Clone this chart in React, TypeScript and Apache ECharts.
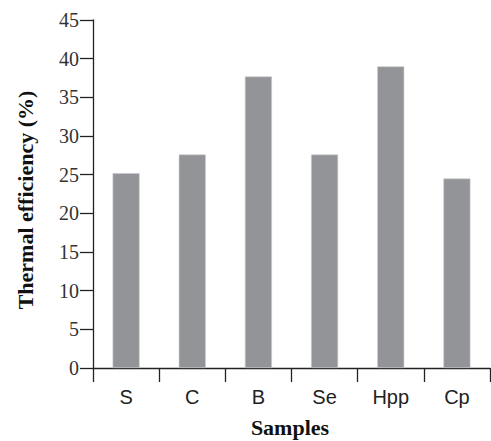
import React, { useEffect, useRef } from "react";
import * as echarts from "echarts";

const categories = ["S", "C", "B", "Se", "Hpp", "Cp"];
const efficiency = [25.2, 27.6, 37.7, 27.6, 39.0, 24.5];
const yMin = 0;
const yMax = 45;
const yStep = 5;
const yTitle = "Thermal efficiency (%)";
const xTitle = "Samples";

export default function App() {
  const ref = useRef<HTMLDivElement>(null);
  useEffect(() => {
    if (!ref.current) return;
    const chart = echarts.init(ref.current, null, { renderer: "svg" });
    const axisColor = "#222";
    chart.setOption({
      animation: false,
      backgroundColor: "#fff",
      grid: { left: 93, top: 20, right: 1, bottom: 73, containLabel: false },
      xAxis: {
        type: "category",
        data: categories,
        boundaryGap: true,
        axisLine: { show: true, lineStyle: { color: axisColor, width: 1.3 } },
        axisTick: { show: true, inside: false, length: 14, alignWithLabel: false, lineStyle: { color: axisColor, width: 1.3 } },
        axisLabel: {
          margin: 19,
          fontFamily: "'Liberation Sans', Arial, sans-serif",
          fontSize: 20,
          color: "#222",
        },
        splitLine: { show: false },
      },
      yAxis: {
        type: "value",
        min: yMin,
        max: yMax,
        interval: yStep,
        axisLine: { show: true, lineStyle: { color: axisColor, width: 1.3 } },
        axisTick: { show: true, inside: false, length: 13, lineStyle: { color: axisColor, width: 1.3 } },
        axisLabel: {
          margin: 14,
          fontFamily: "'Liberation Serif', 'Times New Roman', serif",
          fontSize: 20,
          color: "#333",
          padding: [5, 0, 0, 0],
        },
        splitLine: { show: false },
      },
      series: [
        {
          type: "bar",
          data: efficiency,
          barWidth: 27,
          itemStyle: { color: "#939498", borderColor: "#c8c9cc", borderWidth: 0.6 },
        },
      ],
      graphic: [
        {
          type: "text",
          x: 25,
          y: 200,
          rotation: Math.PI / 2,
          style: {
            text: yTitle,
            fontFamily: "'Liberation Serif', 'Times New Roman', serif",
            fontWeight: "bold",
            fontSize: 22,
            fill: "#111",
            align: "center",
            verticalAlign: "middle",
          },
        },
        {
          type: "text",
          x: 290,
          y: 427,
          style: {
            text: xTitle,
            fontFamily: "'Liberation Serif', 'Times New Roman', serif",
            fontWeight: "bold",
            fontSize: 22,
            fill: "#111",
            align: "center",
            verticalAlign: "middle",
          },
        },
      ],
    });
    return () => chart.dispose();
  }, []);
  return (
    <div
      ref={ref}
      style={{ position: "fixed", left: 0, top: 0, width: 491, height: 441, background: "#fff" }}
    />
  );
}
